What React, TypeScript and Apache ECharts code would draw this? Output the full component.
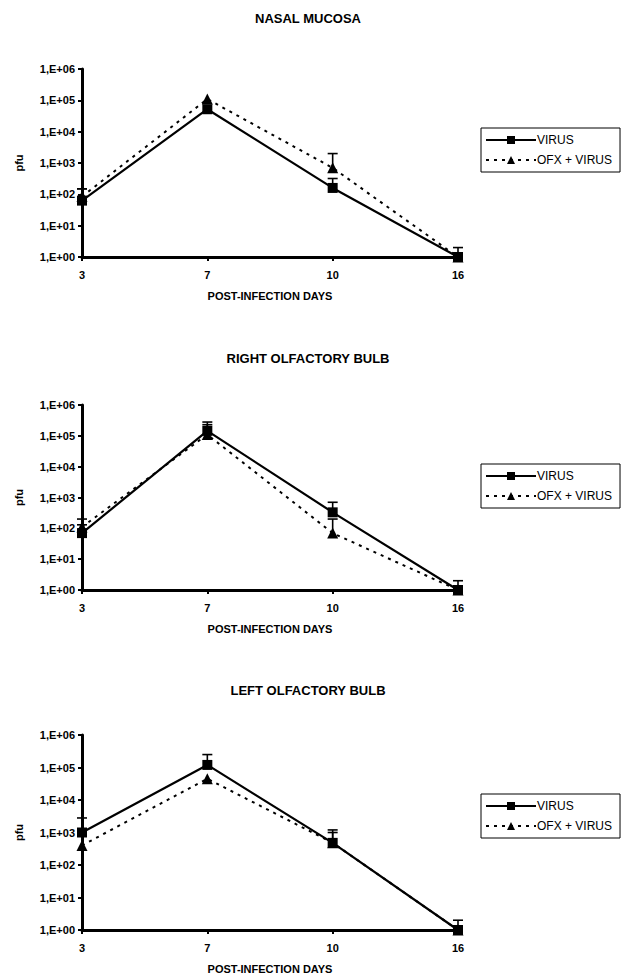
import React, { useEffect, useRef } from "react";
import * as echarts from "echarts";

const days = ["3", "7", "10", "16"];
const panelTitles = ["NASAL MUCOSA", "RIGHT OLFACTORY BULB", "LEFT OLFACTORY BULB"];
const seriesNames = ["VIRUS", "OFX + VIRUS"];

// NASAL MUCOSA
const nasalVirus = [63, 52000, 160, 1];
const nasalVirusUpper: (number | null)[] = [150, null, 320, 2];
const nasalOfx = [85, 110000, 700, 1];
const nasalOfxUpper: (number | null)[] = [150, null, 2000, null];

// RIGHT OLFACTORY BULB
const rightVirus = [70, 145000, 330, 1];
const rightVirusUpper: (number | null)[] = [130, 280000, 700, 2];
const rightOfx = [110, 110000, 70, 1];
const rightOfxUpper: (number | null)[] = [200, 230000, 200, null];

// LEFT OLFACTORY BULB
const leftVirus = [1000, 120000, 480, 1];
const leftVirusUpper: (number | null)[] = [2800, 250000, 1200, 2];
const leftOfx = [400, 45000, 480, 1];
const leftOfxUpper: (number | null)[] = [null, null, 1000, null];

const panels = [
  { virus: nasalVirus, virusUp: nasalVirusUpper, ofx: nasalOfx, ofxUp: nasalOfxUpper },
  { virus: rightVirus, virusUp: rightVirusUpper, ofx: rightOfx, ofxUp: rightOfxUpper },
  { virus: leftVirus, virusUp: leftVirusUpper, ofx: leftOfx, ofxUp: leftOfxUpper },
];

const FONT = "Liberation Sans, Arial, sans-serif";
const gridLayout = [
  { top: 69, height: 188, titleY: 18 },
  { top: 405, height: 185, titleY: 358 },
  { top: 735, height: 195, titleY: 690 },
];
const GRID_LEFT = 82;
const GRID_RIGHT = 627 - 458;

export default function App() {
  const ref = useRef<HTMLDivElement>(null);
  useEffect(() => {
    if (!ref.current) return;
    const chart = echarts.init(ref.current, undefined, { renderer: "svg" });

    const grids: any[] = [];
    const xAxes: any[] = [];
    const yAxes: any[] = [];
    const series: any[] = [];
    const legends: any[] = [];
    const graphics: any[] = [];

    panels.forEach((p, i) => {
      const g = gridLayout[i];
      grids.push({ left: GRID_LEFT, right: GRID_RIGHT, top: g.top, height: g.height });
      xAxes.push({
        gridIndex: i,
        type: "category",
        data: days,
        boundaryGap: false,
        axisLine: { show: true, lineStyle: { color: "#000", width: 3 } },
        axisTick: { show: true, length: 4, lineStyle: { color: "#000", width: 2 } },
        axisLabel: { color: "#000", fontSize: 11, fontWeight: "bold", fontFamily: FONT, margin: 12 },
        splitLine: { show: false },
        name: "POST-INFECTION DAYS",
        nameLocation: "middle",
        nameGap: 33,
        nameTextStyle: { color: "#000", fontSize: 11, fontWeight: "bold", fontFamily: FONT },
      });
      yAxes.push({
        gridIndex: i,
        type: "log",
        logBase: 10,
        min: 1,
        max: 1000000,
        axisLine: { show: true, lineStyle: { color: "#000", width: 3 } },
        axisTick: { show: true, length: 4, lineStyle: { color: "#000", width: 2 } },
        axisLabel: {
          color: "#000",
          fontSize: 11,
          fontWeight: "bold",
          fontFamily: FONT,
          margin: 7,
          formatter: (v: number) => {
            const e = Math.round(Math.log10(v));
            return "1,E+" + (e < 10 ? "0" : "") + e;
          },
        },
        splitLine: { show: false },
        minorTick: { show: false },
        name: "pfu",
        nameLocation: "middle",
        nameRotate: 90,
        nameGap: 58,
        nameTextStyle: { color: "#000", fontSize: 11, fontWeight: "bold", fontFamily: FONT },
      });

      const errData = (vals: number[], ups: (number | null)[]) =>
        vals
          .map((v, k) => (ups[k] == null ? null : [k, v, ups[k]]))
          .filter((d) => d !== null);

      const errSeries = (vals: number[], ups: (number | null)[]) => ({
        type: "custom",
        xAxisIndex: i,
        yAxisIndex: i,
        silent: true,
        z: 1,
        data: errData(vals, ups),
        renderItem: (params: any, api: any) => {
          const x = api.value(0);
          const p0 = api.coord([x, api.value(1)]);
          const p1 = api.coord([x, api.value(2)]);
          const style = { stroke: "#000", lineWidth: 1.6 };
          return {
            type: "group",
            children: [
              { type: "line", shape: { x1: p0[0], y1: p0[1], x2: p1[0], y2: p1[1] }, style },
              { type: "line", shape: { x1: p1[0] - 5, y1: p1[1], x2: p1[0] + 5, y2: p1[1] }, style },
            ],
          };
        },
      });

      series.push(errSeries(p.virus, p.virusUp));
      series.push(errSeries(p.ofx, p.ofxUp));

      series.push({
        name: seriesNames[1],
        type: "line",
        xAxisIndex: i,
        yAxisIndex: i,
        data: p.ofx,
        symbol: "triangle",
        symbolSize: 11,
        z: 2,
        itemStyle: { color: "#000" },
        lineStyle: { color: "#000", width: 2, type: [3, 5] },
      });
      series.push({
        name: seriesNames[0],
        type: "line",
        xAxisIndex: i,
        yAxisIndex: i,
        data: p.virus,
        symbol: "rect",
        symbolSize: 10,
        z: 3,
        itemStyle: { color: "#000" },
        lineStyle: { color: "#000", width: 2.2 },
      });

      legends.push({
        data: seriesNames,
        orient: "vertical",
        left: 481,
        top: g.top + 59,
        itemWidth: 50,
        itemHeight: 10,
        itemGap: 8,
        padding: [6, 8, 6, 4],
        borderColor: "#000",
        borderWidth: 1,
        selectedMode: false,
        textStyle: { color: "#000", fontSize: 12, fontFamily: FONT, padding: [0, 0, 0, -4] },
      });

      graphics.push({
        type: "text",
        x: 308,
        y: g.titleY,
        style: {
          text: panelTitles[i],
          fill: "#000",
          font: `bold 13px ${FONT}`,
          textAlign: "center",
          textVerticalAlign: "middle",
        },
      });
    });

    chart.setOption({
      animation: false,
      backgroundColor: "#fff",
      grid: grids,
      xAxis: xAxes,
      yAxis: yAxes,
      legend: legends,
      series,
      graphic: graphics,
    });
    return () => chart.dispose();
  }, []);

  return (
    <div
      ref={ref}
      style={{ position: "absolute", left: 0, top: 0, width: 627, height: 978 }}
    />
  );
}
